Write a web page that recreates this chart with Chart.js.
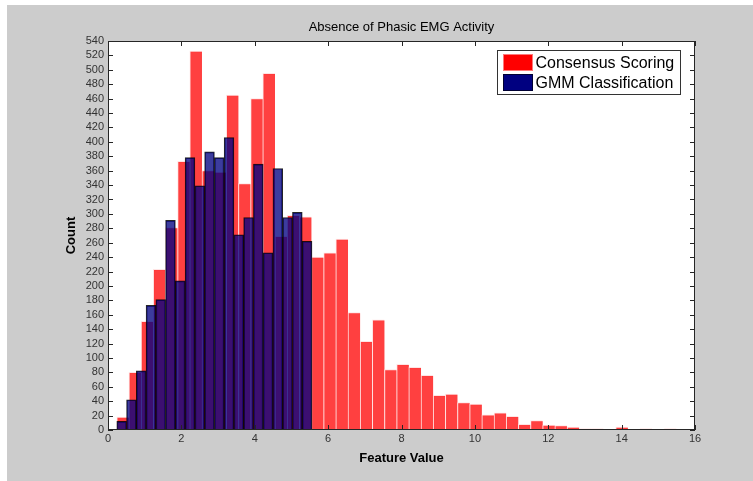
<!DOCTYPE html>
<html>
<head>
<meta charset="utf-8">
<script src="https://cdn.jsdelivr.net/npm/chart.js@4/dist/chart.umd.min.js"></script>
<style>
  html, body { margin: 0; padding: 0; background: #ffffff; }
  canvas { display: block; }
</style>
</head>
<body>
<canvas id="c" width="753" height="481"></canvas>
<script>
// ---- Data ----
const chartTitle = 'Absence of Phasic EMG Activity';
const xLabel = 'Feature Value';
const yLabel = 'Count';
const seriesNames = ['Consensus Scoring', 'GMM Classification'];

// Consensus Scoring histogram: 46 bins
const redBinStart = 0.24;
const redBinWidth = 0.3317;
const redCounts = [18, 80, 151, 223, 281, 373, 526, 360, 358, 465,
                   342, 460, 495, 269, 298, 296, 240, 246, 265, 163,
                   123, 153, 84, 91, 87, 76, 48, 50, 38, 36,
                   21, 24, 19, 8, 13, 7, 6, 4, 2, 2,
                   0, 4, 0, 2, 0, 2];

// GMM Classification histogram: 20 bins
const blueBinStart = 0.24;
const blueBinWidth = 0.266;
const blueCounts = [12, 42, 82, 173, 181, 291, 207, 378, 339, 386,
                    378, 406, 271, 295, 369, 246, 363, 295, 302, 262];

// Axes
const xMin = 0, xMax = 16, xStep = 2;
const yMin = 0, yMax = 540, yStep = 20;

// ---- Build chart data ----
const toPoints = (start, width, counts) =>
  counts.map((c, i) => ({ x: start + width * (i + 0.5), y: c }));

const FONT = "'Liberation Sans', Arial, Helvetica, sans-serif";

const matlabPlugin = {
  id: 'matlabLook',
  beforeDraw(chart) {
    const ctx = chart.ctx, a = chart.chartArea;
    ctx.save();
    ctx.fillStyle = '#cccccc';
    ctx.fillRect(7, 5, chart.width - 7, chart.height - 5);
    ctx.fillStyle = '#ffffff';
    ctx.fillRect(a.left, a.top, a.right - a.left, a.bottom - a.top);
    ctx.restore();
  },
  afterDatasetsDraw(chart) {
    const ctx = chart.ctx, a = chart.chartArea;
    const xs = chart.scales.x, ys = chart.scales.y;
    ctx.save();
    // box
    ctx.strokeStyle = '#262626';
    ctx.lineWidth = 1;
    ctx.strokeRect(Math.round(a.left) + 0.5, Math.round(a.top) + 0.5,
                   Math.round(a.right - a.left) - 1, Math.round(a.bottom - a.top) - 1);
    // inward ticks
    const tl = 5;
    ctx.beginPath();
    ys.ticks.forEach(t => {
      const p = Math.round(ys.getPixelForValue(t.value)) + 0.5;
      ctx.moveTo(a.left, p); ctx.lineTo(a.left + tl, p);
      ctx.moveTo(a.right, p); ctx.lineTo(a.right - tl, p);
    });
    xs.ticks.forEach(t => {
      const p = Math.round(xs.getPixelForValue(t.value)) + 0.5;
      ctx.moveTo(p, a.bottom); ctx.lineTo(p, a.bottom - tl);
      ctx.moveTo(p, a.top); ctx.lineTo(p, a.top + tl);
    });
    ctx.stroke();

    // legend box
    const lw = 183, lh = 44;
    const lx = Math.round(a.right - 198) + 0.5, ly = Math.round(a.top + 9) + 0.5;
    ctx.fillStyle = '#ffffff';
    ctx.fillRect(lx, ly, lw, lh);
    ctx.strokeStyle = '#333333';
    ctx.strokeRect(lx, ly, lw, lh);
    const swatches = ['#ff0000', '#000080'];
    ctx.font = '16px ' + FONT;
    ctx.textBaseline = 'middle';
    ctx.textAlign = 'left';
    seriesNames.forEach((name, i) => {
      const sy = ly + 4 + i * 20;
      ctx.fillStyle = swatches[i];
      ctx.fillRect(lx + 6, sy, 29, 16);
      ctx.strokeStyle = i === 0 ? 'rgba(255,120,120,1)' : '#000033';
      ctx.strokeRect(lx + 6, sy, 29, 16);
      ctx.fillStyle = '#000000';
      ctx.fillText(name, lx + 38, sy + 9);
    });

    // title
    ctx.font = '13px ' + FONT;
    ctx.textAlign = 'center';
    ctx.textBaseline = 'middle';
    ctx.fillStyle = '#000000';
    ctx.fillText(chartTitle, (a.left + a.right) / 2, 27);
    ctx.restore();
  }
};

new Chart(document.getElementById('c'), {
  type: 'bar',
  data: {
    datasets: [
      {
        label: seriesNames[0],
        data: toPoints(redBinStart, redBinWidth, redCounts),
        xAxisID: 'x',
        backgroundColor: 'rgba(255,0,0,0.75)',
        borderColor: 'rgba(255,225,225,0.9)',
        borderWidth: { top: 1, left: 1, right: 0, bottom: 0 },
        barPercentage: 1,
        categoryPercentage: 1,
        grouped: false,
        order: 2
      },
      {
        label: seriesNames[1],
        data: toPoints(blueBinStart, blueBinWidth, blueCounts),
        xAxisID: 'x2',
        backgroundColor: 'rgba(0,0,128,0.765)',
        borderColor: 'rgba(0,0,0,0.85)',
        borderWidth: { top: 1, left: 1, right: 1, bottom: 0 },
        barPercentage: 1,
        categoryPercentage: 1,
        grouped: false,
        order: 1
      }
    ]
  },
  options: {
    responsive: false,
    animation: false,
    devicePixelRatio: 1,
    layout: { padding: { left: 0, top: 41, right: 58, bottom: 0 } },
    plugins: {
      legend: { display: false },
      tooltip: { enabled: false },
      title: { display: false }
    },
    scales: {
      x: {
        type: 'linear',
        min: xMin, max: xMax,
        offset: false,
        grid: { display: false, drawTicks: false },
        border: { display: false },
        ticks: { stepSize: xStep, autoSkip: false, maxRotation: 0, padding: 2,
                 color: '#333333', font: { family: FONT, size: 11 } },
        title: { display: true, text: xLabel, color: '#000000',
                 font: { family: FONT, size: 13, weight: 'bold' },
                 padding: { top: 0, bottom: 15 } },
        afterFit(s) { s.height = 51; }
      },
      x2: {
        type: 'linear',
        min: xMin, max: xMax,
        offset: false,
        display: false,
        ticks: { stepSize: xStep }
      },
      y: {
        min: yMin, max: yMax,
        grid: { display: false, drawTicks: false },
        border: { display: false },
        ticks: { stepSize: yStep, autoSkip: false, padding: 4,
                 color: '#333333', font: { family: FONT, size: 11 } },
        title: { display: true, text: yLabel, color: '#000000',
                 font: { family: FONT, size: 13, weight: 'bold' },
                 padding: { top: 64, bottom: 0 } },
        afterFit(s) { s.width = 108; }
      }
    }
  },
  plugins: [matlabPlugin]
});
</script>
</body>
</html>
